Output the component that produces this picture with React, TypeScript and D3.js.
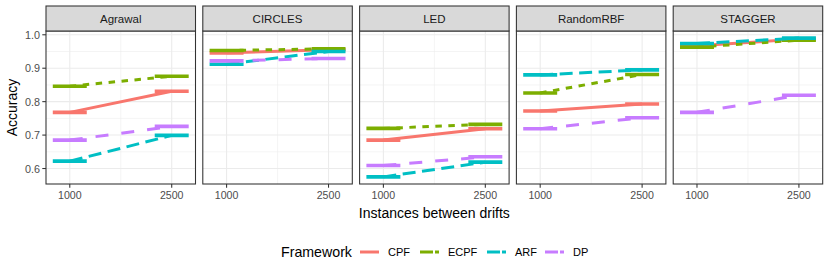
import React from "react";
import * as d3 from "d3";

const generators = ["Agrawal", "CIRCLES", "LED", "RandomRBF", "STAGGER"];
const frameworks = ["CPF", "ECPF", "ARF", "DP"];
const instances = [1000, 2500];

// accuracy per generator, at [1000, 2500]
const cpfAcc = [[0.768, 0.831], [0.946, 0.955], [0.685, 0.719], [0.772, 0.793], [0.967, 0.987]];
const ecpfAcc = [[0.846, 0.876], [0.953, 0.958], [0.720, 0.732], [0.826, 0.881], [0.963, 0.984]];
const arfAcc = [[0.622, 0.699], [0.912, 0.950], [0.575, 0.619], [0.880, 0.895], [0.974, 0.990]];
const dpAcc = [[0.685, 0.726], [0.922, 0.929], [0.609, 0.635], [0.719, 0.752], [0.768, 0.819]];

const yTicks = [0.6, 0.7, 0.8, 0.9, 1.0];
const yMinor = [0.65, 0.75, 0.85, 0.95];
const xMinor = [1750];

const colors = ["#F8766D", "#7CAE00", "#00BFC4", "#C77CFF"];
const dashes = ["none", "6.5,6.5", "13,6.5", "13,13"];
const series = [cpfAcc, ecpfAcc, arfAcc, dpAcc];

const W = 830;
const H = 277;
const left = 46;
const right = 822.7;
const gap = 7.3;
const stripTop = 6;
const panelTop = 31;
const panelBottom = 184;
const panelW = (right - left - gap * 4) / 5;
const font = "'Liberation Sans', Arial, Helvetica, sans-serif";

export default function App() {
  const x = d3.scaleLinear().domain([650, 2850]).range([0, panelW]);
  const y = d3.scaleLinear().domain([0.5537, 1.0113]).range([panelBottom, panelTop]);
  const line = d3.line<[number, number]>().x(d => x(d[0])).y(d => y(d[1]));

  return (
    <svg width={W} height={H} style={{ display: "block", position: "absolute", left: 0, top: 0 }} fontFamily={font}>
      <rect width={W} height={H} fill="white" />
      {generators.map((g, gi) => {
        const px = left + gi * (panelW + gap);
        return (
          <g key={g} transform={`translate(${px},0)`}>
            <rect x={0} y={panelTop} width={panelW} height={panelBottom - panelTop} fill="white" />
            {yMinor.map(t => (
              <line key={t} x1={0} x2={panelW} y1={y(t)} y2={y(t)} stroke="#EBEBEB" strokeWidth={0.55} />
            ))}
            {xMinor.map(t => (
              <line key={t} x1={x(t)} x2={x(t)} y1={panelTop} y2={panelBottom} stroke="#EBEBEB" strokeWidth={0.55} />
            ))}
            {yTicks.map(t => (
              <line key={t} x1={0} x2={panelW} y1={y(t)} y2={y(t)} stroke="#EBEBEB" strokeWidth={1.07} />
            ))}
            {instances.map(t => (
              <line key={t} x1={x(t)} x2={x(t)} y1={panelTop} y2={panelBottom} stroke="#EBEBEB" strokeWidth={1.07} />
            ))}
            {series.map((s, si) => {
              const pts: [number, number][] = instances.map((n, i) => [n, s[gi][i]]);
              return (
                <g key={si}>
                  {pts.map((p, i) => (
                    <line key={i} x1={x(p[0] - 250)} x2={x(p[0] + 250)} y1={y(p[1])} y2={y(p[1])}
                      stroke={colors[si]} strokeWidth={3.6} />
                  ))}
                  <path d={line(pts) || ""} fill="none" stroke={colors[si]} strokeWidth={3}
                    strokeDasharray={dashes[si]} />
                </g>
              );
            })}
            <rect x={0} y={panelTop} width={panelW} height={panelBottom - panelTop} fill="none" stroke="#333333" strokeWidth={1.07} />
            <rect x={0} y={stripTop} width={panelW} height={panelTop - stripTop} fill="#D9D9D9" stroke="#333333" strokeWidth={1.07} />
            <text x={panelW / 2} y={(stripTop + panelTop) / 2 + 4} textAnchor="middle" fontSize={11.5} fill="#1A1A1A">{g}</text>
            {instances.map(t => (
              <g key={t}>
                <line x1={x(t)} x2={x(t)} y1={panelBottom} y2={panelBottom + 3.7} stroke="#333333" strokeWidth={1.07} />
                <text x={x(t)} y={panelBottom + 15} textAnchor="middle" fontSize={10.6} fill="#4D4D4D">{t}</text>
              </g>
            ))}
            {gi === 0 && yTicks.map(t => (
              <g key={t}>
                <line x1={-3.7} x2={0} y1={y(t)} y2={y(t)} stroke="#333333" strokeWidth={1.07} />
                <text x={-6} y={y(t) + 4} textAnchor="end" fontSize={10.8} fill="#4D4D4D">{t.toFixed(1)}</text>
              </g>
            ))}
          </g>
        );
      })}
      <text x={(left + right) / 2} y={218} textAnchor="middle" fontSize={14} fill="black">Instances between drifts</text>
      <text transform={`translate(17,${(panelTop + panelBottom) / 2}) rotate(-90)`} textAnchor="middle" fontSize={14} fill="black">Accuracy</text>
      <g transform="translate(0,252)">
        <text x={281} y={5} fontSize={14.2} fill="black">Framework</text>
        {frameworks.map((f, i) => {
          const kx = [360, 420, 487, 545][i];
          return (
            <g key={f}>
              <line x1={kx} x2={kx + 19} y1={0} y2={0} stroke={colors[i]} strokeWidth={3}
                strokeDasharray={dashes[i] === "none" ? "none" : "13,2"} />
              <text x={kx + 28} y={4} fontSize={11} fill="black">{f}</text>
            </g>
          );
        })}
      </g>
    </svg>
  );
}
